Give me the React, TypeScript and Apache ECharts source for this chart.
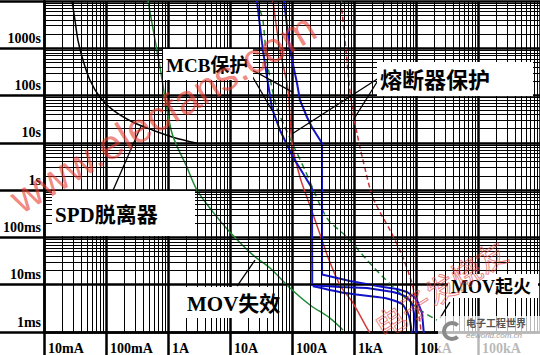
import React, { useEffect, useRef } from "react";
import * as echarts from "echarts";

// Axis decades and their tick labels
const xDecades = [0.01, 0.1, 1, 10, 100, 1000, 10000, 100000, 1000000];
const xTickLabels = ["10mA", "100mA", "1A", "10A", "100A", "1kA", "10kA", "100kA", ""];
const yDecades = [0.001, 0.01, 0.1, 1, 10, 100, 1000, 10000];
const yTickLabels = ["1ms", "10ms", "100ms", "1s", "10s", "100s", "1000s", ""];
const minorMultipliers = [2, 3, 4, 5, 6, 7, 8, 9];

// Curves: [current (A), time (s)]
const spdDisconnector = [
  [0.0283, 10000], [0.0316, 3900], [0.0353, 1475], [0.0426, 557], [0.0552, 211],
  [0.08, 92], [0.13, 49], [0.272, 27.3], [0.573, 18.5], [1.2, 13.2], [2.94, 9.85],
];
const movFailure = [
  [0.475, 10000], [0.743, 397], [1.16, 16], [2.02, 3.06], [2.94, 1.0], [5.32, 0.343],
  [10, 0.129], [23.5, 0.0423], [44.2, 0.0225], [93, 0.0085], [195, 0.00372],
  [410, 0.00197], [665, 0.0011],
];
const movFire = [
  [30.5, 6350], [34, 3900], [39.5, 557], [55.2, 62.5], [77.1, 21.4], [162, 2.64],
  [367, 0.256], [771, 0.1016], [1622, 0.0332], [2938, 0.0145], [5520, 0.00667],
  [11600, 0.00291], [21800, 0.00179],
];
const fuseSolid = [
  [49.4, 10000], [64, 908], [83, 182], [89.5, 79.6], [100, 9.85], [134.6, 1.88],
  [181, 0.615], [226, 0.269], [305, 0.0877], [396, 0.0332], [594, 0.00984],
  [963, 0.00409], [1622, 0.00121], [1813, 0.00095],
];
const fuseDashed = [
  [617, 10000], [743, 908], [895, 79.6], [1117, 16], [1396, 4.3], [1950, 0.783],
  [2625, 0.343], [3810, 0.143], [5940, 0.0423], [8300, 0.01253], [10000, 0.00474],
  [11600, 0.00163], [12060, 0.00095],
];
const mcbInner = [
  [27.2, 10000], [34, 908], [41, 182], [47.5, 54], [64, 18.5], [104, 4.97], [150, 2.28],
  [210, 1.1], [212, 0.0098], [594, 0.0089], [1622, 0.0085], [4256, 0.007],
  [5520, 0.00635], [7160, 0.00548], [8300, 0.0043], [8950, 0.00337], [9640, 0.00179],
  [10000, 0.0009],
];
const mcbOuter = [
  [74.3, 10000], [93, 908], [120.5, 182], [134.6, 79.6], [175, 34.8], [210, 21.4],
  [305, 9.85], [305, 0.0165], [861, 0.01194], [2938, 0.0089], [4940, 0.0081],
  [7160, 0.007], [8950, 0.00575], [10380, 0.00474], [12500, 0.00252], [13460, 0.00087],
];
const mcbLower = [
  [218, 0.0093], [716, 0.00667], [3162, 0.00523], [5940, 0.0039], [7710, 0.00218],
  [8610, 0.00091],
];

// Annotation leader lines: [current, time] pairs
const mcbPointerA = [[18.8, 397], [104, 117]];
const mcbPointerB = [[18.8, 397], [47.5, 49]];
const fusePointerA = [[2625, 244], [104, 16]];
const fusePointerB = [[2625, 244], [1038, 34.8]];
const spdPointer = [[0.13, 1.0], [0.367, 22.5]];
const movFailPointer = [[13, 0.0093], [25.3, 0.0332]];
const movFirePointer = [[35300, 0.0043], [24400, 0.00197]];

const labelFor = (decades: number[], labels: string[]) => (v: number) => {
  const lv = Math.log10(v);
  for (let i = 0; i < decades.length; i++) {
    if (Math.abs(Math.log10(decades[i]) - lv) < 0.01) return labels[i];
  }
  return "";
};

const SERIF = '"Liberation Serif", "Noto Sans CJK SC", serif';

export default function App() {
  const ref = useRef<HTMLDivElement>(null);
  useEffect(() => {
    if (!ref.current) return;
    const chart = echarts.init(ref.current, undefined, { renderer: "svg" });

    const minorLines: any[] = [];
    xDecades.slice(0, -1).forEach((d) =>
      minorMultipliers.forEach((m) => minorLines.push({ xAxis: d * m }))
    );
    yDecades.slice(0, -1).forEach((d) =>
      minorMultipliers.forEach((m) => minorLines.push({ yAxis: d * m }))
    );

    const curve = (name: string, data: number[][], color: string, width: number, type: any = "solid", smooth: any = 0.3) => ({
      name,
      type: "line",
      data,
      symbol: "none",
      smooth,
      z: 4,
      silent: true,
      lineStyle: { color, width, type },
    });
    const pointer = (data: number[][]) => ({
      type: "line",
      data,
      symbol: "none",
      z: 5,
      silent: true,
      lineStyle: { color: "#000", width: 1.3 },
    });

    const box = (x: number, y: number, w: number, h: number, text: string, size: number) => [
      { type: "rect", z: 10, shape: { x, y, width: w, height: h }, style: { fill: "#fff" }, silent: true },
      {
        type: "text", z: 11, x: x + 3, y: y + h / 2 + 1, silent: true,
        style: { text, font: `bold ${size}px ${SERIF}`, fill: "#000", align: "left", verticalAlign: "middle" },
      },
    ];

    chart.setOption({
      animation: false,
      backgroundColor: "#fff",
      grid: { left: 44, right: 0, top: 1, bottom: 23, containLabel: false, outerBoundsMode: "none" },
      xAxis: {
        type: "log",
        logBase: 10,
        min: 0.01,
        max: 1000000,
        axisLine: { show: true, lineStyle: { color: "#000", width: 2.5 } },
        axisTick: { show: true, length: 23, lineStyle: { color: "#000", width: 2.5 } },
        splitLine: { show: true, lineStyle: { color: "#000", width: 2.5 } },
        axisLabel: {
          formatter: labelFor(xDecades, xTickLabels),
          align: "left",
          padding: [0, 0, 0, 4],
          margin: 9,
          color: "#000",
          fontFamily: SERIF,
          fontWeight: "bold",
          fontSize: 14,
          showMaxLabel: false,
        },
      },
      yAxis: {
        type: "log",
        logBase: 10,
        min: 0.001,
        max: 10000,
        axisLine: { show: true, lineStyle: { color: "#000", width: 2.5 } },
        axisTick: { show: true, length: 44, lineStyle: { color: "#000", width: 2.5 } },
        splitLine: { show: true, lineStyle: { color: "#000", width: 2.5 } },
        axisLabel: {
          formatter: labelFor(yDecades, yTickLabels),
          verticalAlign: "bottom",
          padding: [0, 0, 3, 0],
          margin: 3,
          color: "#000",
          fontFamily: SERIF,
          fontWeight: "bold",
          fontSize: 14,
        },
      },
      series: [
        {
          type: "line",
          data: [[1, 1]],
          symbol: "none",
          lineStyle: { opacity: 0 },
          silent: true,
          z: 1,
          markLine: {
            silent: true,
            symbol: ["none", "none"],
            label: { show: false },
            lineStyle: { color: "#000", width: 1, type: "solid" },
            emphasis: { disabled: true },
            data: minorLines,
          },
        },
        curve("SPD脱离器", spdDisconnector, "#000", 1.5),
        curve("MOV失效", movFailure, "#1e8a34", 1.5),
        curve("MOV起火", movFire, "#1e8a34", 1.5, [6, 4]),
        curve("熔断器保护", fuseSolid, "#d53a3a", 1.5),
        curve("熔断器保护(虚线)", fuseDashed, "#cc3333", 1.5, [5, 3]),
        curve("MCB保护1", mcbInner, "#1414c8", 2, "solid", false),
        curve("MCB保护2", mcbOuter, "#1414c8", 2, "solid", false),
        curve("MCB保护3", mcbLower, "#1414c8", 2, "solid", 0.2),
        pointer(mcbPointerA),
        pointer(mcbPointerB),
        pointer(fusePointerA),
        pointer(fusePointerB),
        pointer(spdPointer),
        pointer(movFailPointer),
        pointer(movFirePointer),
      ],
      graphic: [
        ...box(163, 49, 90, 31, "MCB保护", 19),
        ...box(377, 62, 156, 34, "熔断器保护", 22),
        ...box(52, 191, 143, 45, "SPD脱离器", 21),
        ...box(184, 287, 88, 31, "MOV失效", 21),
        ...box(448, 274, 90, 24, "MOV起火", 18),
        {
          type: "text", z: 20, x: 163, y: 113, rotation: 0.54, silent: true,
          style: {
            text: "www.elecfans.com",
            font: '42px "Liberation Sans", sans-serif',
            fill: "rgba(232,60,50,0.62)",
            align: "center",
            verticalAlign: "middle",
          },
        },
        {
          type: "text", z: 20, x: 440, y: 288, rotation: 0.57, silent: true,
          style: {
            text: "电子发烧友",
            font: '30px "Noto Sans CJK SC", sans-serif',
            fill: "rgba(255,255,255,0)",
            stroke: "rgba(225,70,70,0.65)",
            lineWidth: 1,
            align: "center",
            verticalAlign: "middle",
          },
        },
        {
          type: "rect", z: 21, silent: true,
          shape: { x: 438, y: 316, width: 102, height: 39 },
          style: { fill: "rgba(255,255,255,0.72)" },
        },
        {
          type: "arc", z: 22, silent: true,
          shape: { cx: 452, cy: 331, r: 8, startAngle: 0.8, endAngle: 5.5 },
          style: { stroke: "#8a8a8a", lineWidth: 4, fill: null },
        },
        {
          type: "text", z: 22, x: 466, y: 322, silent: true,
          style: { text: "电子工程世界", font: 'bold 10px "Noto Sans CJK SC"', fill: "#555", align: "left", verticalAlign: "middle" },
        },
        {
          type: "text", z: 22, x: 466, y: 335, silent: true,
          style: { text: "eeworld.com.cn", font: 'italic 8px "Liberation Sans"', fill: "#999", align: "left", verticalAlign: "middle" },
        },
      ],
    });
    return () => chart.dispose();
  }, []);
  return (
    <div
      ref={ref}
      style={{ position: "fixed", left: 0, top: 0, width: 540, height: 355, background: "#fff" }}
    />
  );
}
